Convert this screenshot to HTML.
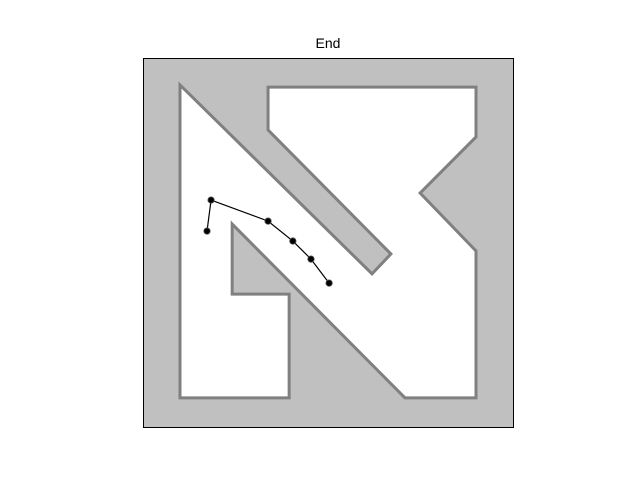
<!DOCTYPE html>
<html><head><meta charset="utf-8"><style>
body{margin:0;background:#fff}
svg{display:block;font-family:"Liberation Sans","DejaVu Sans",sans-serif}
</style></head><body>
<svg id="chart" width="640" height="480">
<text x="328" y="48" text-anchor="middle" font-size="14">End</text>
<rect x="143.5" y="58.5" width="370" height="369" fill="#c0c0c0" stroke="#000" stroke-width="1"/>
<g id="marks"></g>
</svg>
<script>
const pathX=[1.73,1.84,3.38,4.05,4.54,5.03];
const pathY=[5.31,6.15,5.58,5.04,4.55,3.90];
const mapX=[1,1,3.95,3.95,2.41,2.41,7.08,9,9,7.49,9,9,3.38,3.38,6.7,6.19];
const mapY=[9.27,0.79,0.79,3.6,3.6,5.5,0.79,0.79,4.77,6.34,7.86,9.21,9.21,8.05,4.69,4.15];
const x=v=>143+v*37, y=v=>427-v*36.9;
const g=document.getElementById('marks');
const ns='http://www.w3.org/2000/svg';
const poly=document.createElementNS(ns,'polygon');
poly.setAttribute('points',mapX.map((v,i)=>x(v)+','+y(mapY[i])).join(' '));
poly.setAttribute('fill','#fff');poly.setAttribute('stroke','#808080');poly.setAttribute('stroke-width','3');


g.appendChild(poly);
const line=document.createElementNS(ns,'polyline');
line.setAttribute('points',pathX.map((v,i)=>x(v)+','+y(pathY[i])).join(' '));
line.setAttribute('fill','none');line.setAttribute('stroke','#000');line.setAttribute('stroke-width','1.2');


g.appendChild(line);
pathX.forEach((v,i)=>{
const c=document.createElementNS(ns,'circle');
c.setAttribute('cx',x(v));c.setAttribute('cy',y(pathY[i]));c.setAttribute('r','3.2');c.setAttribute('fill','#000');
c.setAttribute('stroke','#555');c.setAttribute('stroke-width','0.8');


g.appendChild(c);
});
</script>
</body></html>
